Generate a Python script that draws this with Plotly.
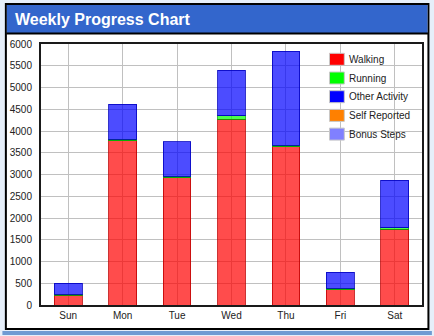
import plotly.graph_objects as go

days = ["Sun", "Mon", "Tue", "Wed", "Thu", "Fri", "Sat"]
walking = [220, 3780, 2920, 4270, 3640, 345, 1740]
running = [25, 25, 40, 80, 30, 40, 35]
other_activity = [255, 815, 790, 1050, 2160, 365, 1095]
self_reported = [0, 0, 0, 0, 0, 0, 0]
bonus_steps = [0, 0, 0, 0, 0, 0, 0]

series_names = ["Walking", "Running", "Other Activity", "Self Reported", "Bonus Steps"]
series_values = [walking, running, other_activity, self_reported, bonus_steps]
fill_colors = ["rgba(255,0,0,0.7)", "rgba(0,255,0,0.7)", "rgba(0,0,255,0.7)",
               "rgba(255,128,0,0.7)", "rgba(128,128,255,0.7)"]
edge_colors = ["rgba(190,0,0,0.8)", "rgba(0,170,0,0.8)", "rgba(0,0,190,0.8)",
               "rgba(200,100,0,0.8)", "rgba(90,90,200,0.8)"]
legend_colors = ["#ff0000", "#00ff00", "#0000ff", "#ff8000", "#8080ff"]

W, H = 434, 336
L, R, T, B = 39, 10, 44, 31
pw, ph = W - L - R, H - T - B


def xp(px):
    return (px - L) / pw


def yp(py):
    return (H - B - py) / ph


fig = go.Figure()
for name, vals, fc, ec in zip(series_names, series_values, fill_colors, edge_colors):
    zero = all(v == 0 for v in vals)
    fig.add_trace(go.Bar(
        x=days, y=vals, name=name, showlegend=False,
        marker=dict(color=fc, line=dict(color=ec, width=0 if zero else 1)),
        hoverinfo="x+y+name",
    ))

font = "Arial, Liberation Sans, sans-serif"
shapes = [
    dict(type="rect", xref="paper", yref="paper", layer="below",
         x0=xp(3.5), x1=xp(430.5), y0=yp(329), y1=yp(4),
         fillcolor="white", line=dict(color="black", width=2)),
    dict(type="rect", xref="paper", yref="paper", layer="below",
         x0=xp(4.5), x1=xp(429.5), y0=yp(33), y1=yp(5),
         fillcolor="#3366cc", line=dict(width=0)),
    dict(type="line", xref="paper", yref="paper", layer="below",
         x0=xp(4), x1=xp(430), y0=yp(33.5), y1=yp(33.5),
         line=dict(color="black", width=2)),
    dict(type="rect", xref="paper", yref="paper", layer="below",
         x0=xp(0), x1=xp(434), y0=yp(335), y1=yp(331),
         fillcolor="#6f9bd3", line=dict(width=0)),
]
annotations = [dict(text="<b>Weekly Progress Chart</b>", xref="paper", yref="paper",
                    x=xp(11), y=yp(19.5), xanchor="left", yanchor="middle",
                    showarrow=False, font=dict(family=font, size=16, color="white"))]

# legend (drawn as shapes + text)
leg_y0, leg_step = 59.3, 18.7
for i, (name, lc) in enumerate(zip(series_names, legend_colors)):
    cy = leg_y0 + i * leg_step
    shapes.append(dict(type="rect", xref="paper", yref="paper", layer="above",
                       x0=xp(330.5), x1=xp(345.5), y0=yp(cy + 6), y1=yp(cy - 6),
                       fillcolor=lc, line=dict(color="#c8c8c8", width=1)))
    annotations.append(dict(text=name, xref="paper", yref="paper",
                            x=xp(348), y=yp(cy), xanchor="left", yanchor="middle",
                            showarrow=False,
                            font=dict(family=font, size=10, color="#222222")))

fig.update_layout(
    width=W, height=H,
    margin=dict(l=L, r=R, t=T, b=B, pad=0),
    barmode="stack", bargap=0.49,
    paper_bgcolor="#e6effa", plot_bgcolor="rgba(0,0,0,0)",
    font=dict(family=font, size=10, color="#222222"),
    shapes=shapes,
    annotations=annotations,
    showlegend=False,
    xaxis=dict(showgrid=True, gridcolor="#c0c0c0", gridwidth=1,
               showline=True, linecolor="#1a1a1a", linewidth=2, mirror=True,
               ticks="", tickfont=dict(size=10, color="#222222"), fixedrange=True),
    yaxis=dict(range=[0, 6000], dtick=500, showgrid=True, gridcolor="#c0c0c0", gridwidth=1,
               showline=True, linecolor="#1a1a1a", linewidth=2, mirror=True,
               ticks="", ticklabelstandoff=5, zeroline=False,
               tickfont=dict(size=10, color="#222222"), fixedrange=True),
)

fig.write_html("out.html")
